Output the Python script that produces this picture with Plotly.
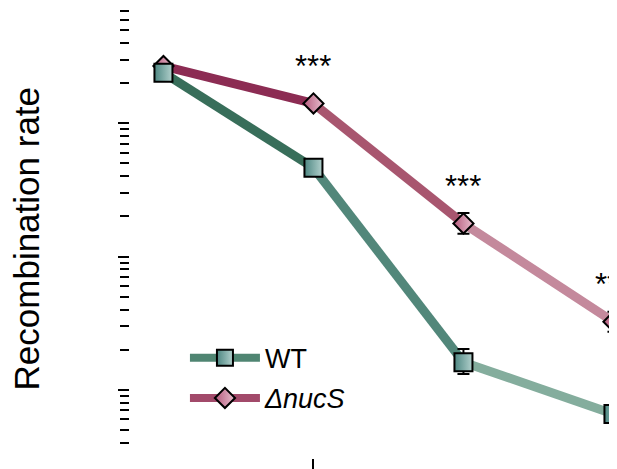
import numpy as np
import plotly.graph_objects as go

# ---- data ----
conditions = [0, 1, 2, 3]
wt_rate = [2.40e-6, 4.64e-7, 1.61e-8, 6.57e-9]
wt_err_plus = [0, 0, 0.41e-8, 0.98e-9]
wt_err_minus = [0, 0, 0.30e-8, 0.80e-9]
nucs_rate = [2.69e-6, 1.41e-6, 1.77e-7, 3.24e-8]
nucs_err_plus = [0, 0, 0.35e-7, 0.61e-8]
nucs_err_minus = [0, 0, 0.29e-7, 0.52e-8]
signif = ["", "***", "***", "***"]

wt_seg_colors = ["#386e5a", "#52877a", "#84ad9d"]
nucs_seg_colors = ["#8c2c53", "#a8566f", "#c4899c"]

FONT = "Liberation Sans, Arial, sans-serif"

fig = go.Figure()

def add_series(name, legend_name, rank, xs, ys, ep, em, seg_colors, symbol,
               size, fill0, fill1, legend_line):
    # gradient-like line: one segment trace per interval
    for i in range(len(xs) - 1):
        fig.add_trace(go.Scatter(
            x=xs[i:i + 2], y=ys[i:i + 2], mode="lines",
            line=dict(color=seg_colors[i], width=9),
            showlegend=False, hoverinfo="skip"))
    fig.add_trace(go.Scatter(
        x=xs, y=ys, mode="markers", name=name, showlegend=False,
        marker=dict(symbol=symbol, size=size, color=fill0,
                    gradient=dict(type="horizontal", color=fill1),
                    line=dict(color="black", width=2)),
        error_y=dict(type="data", array=ep, arrayminus=em, symmetric=False,
                     color="black", thickness=2, width=6)))
    fig.add_trace(go.Scatter(
        x=[None], y=[None], mode="lines+markers", name=legend_name,
        legendrank=rank, legendgroup=name,
        line=dict(color=legend_line, width=8),
        marker=dict(symbol=symbol, size=size, color=fill0,
                    gradient=dict(type="horizontal", color=fill1),
                    line=dict(color="black", width=2))))

add_series("nucS", "<i>ΔnucS</i>", 2, conditions, nucs_rate, nucs_err_plus,
           nucs_err_minus, nucs_seg_colors, "diamond", 15.5,
           "#b45a7c", "#e9bfcf", "#a24a6a")
add_series("WT", "WT", 1, conditions, wt_rate, wt_err_plus, wt_err_minus,
           wt_seg_colors, "square", 18, "#4d8782", "#b2d0cc", "#4f8572")

for xi, yi, s in zip(conditions, nucs_rate, signif):
    if s:
        fig.add_annotation(x=xi, y=np.log10(yi), text=s, showarrow=False,
                           yshift=37, font=dict(size=31, color="black",
                                                family=FONT))

fig.add_annotation(text="Recombination rate", xref="paper", yref="paper",
                   x=-0.210, y=0.488, textangle=-90, showarrow=False,
                   xanchor="center", yanchor="middle",
                   font=dict(size=35, color="black", family=FONT))

# tick positions on the log axis
decades = [1e-8, 1e-7, 1e-6]
minor_vals = [d * k for d in [1e-9, 1e-8, 1e-7, 1e-6] for k in range(2, 10)]
minor_vals = [v for v in minor_vals if 4e-9 <= v <= 7.5e-6]

# the page body adds an 8 px offset; margins/ranges compensate for it
yrange = [-8.513, -5.134]
fig.update_layout(
    width=617, height=469,
    margin=dict(l=122, r=0, t=0, b=19, autoexpand=False),
    paper_bgcolor="white", plot_bgcolor="white",
    font=dict(family=FONT, color="black"),
    showlegend=True,
    legend=dict(x=0.111, y=0.276, xanchor="left", yanchor="top",
                bgcolor="rgba(0,0,0,0)", font=dict(size=27, family=FONT),
                itemwidth=70, tracegroupgap=2, traceorder="grouped"),
    xaxis=dict(range=[-0.223, 3.077], showgrid=False, zeroline=False,
               showline=False, tickvals=[1], ticks="outside", ticklen=10,
               tickwidth=2, tickcolor="black", showticklabels=False,
               automargin=False),
    yaxis=dict(type="log", range=yrange, showgrid=False, zeroline=False,
               showline=False, tickvals=decades, ticks="outside", ticklen=11,
               tickwidth=2, tickcolor="black", showticklabels=False,
               automargin=False),
    yaxis2=dict(type="log", range=yrange, overlaying="y", side="left",
                anchor="x", showgrid=False, zeroline=False, showline=False,
                tickvals=minor_vals, ticks="outside", ticklen=9, tickwidth=2,
                tickcolor="black", showticklabels=False, automargin=False),
)
fig.add_trace(go.Scatter(x=[None], y=[None], yaxis="y2", showlegend=False,
                         hoverinfo="skip"))

fig.write_html("out.html")
